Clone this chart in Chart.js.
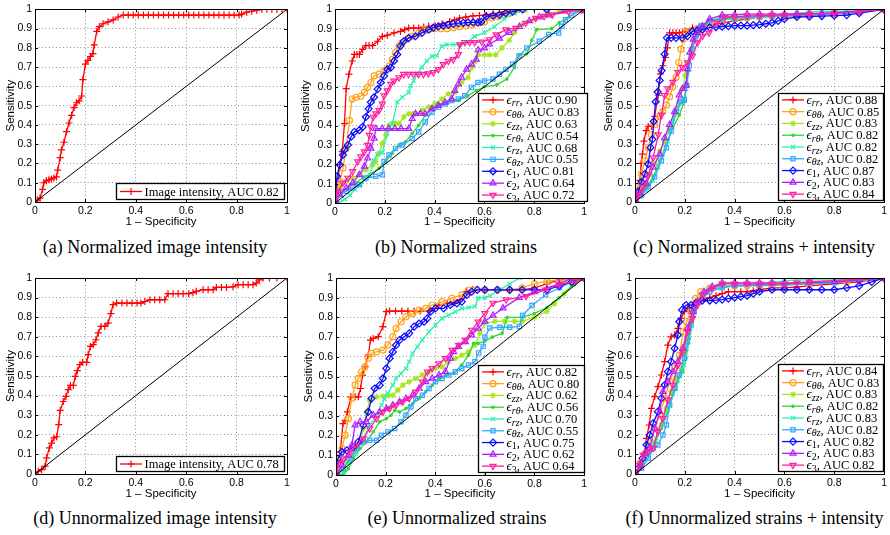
<!DOCTYPE html>
<html>
<head>
<meta charset="utf-8">
<script src="https://cdn.jsdelivr.net/npm/chart.js@4.4.0/dist/chart.umd.min.js"></script>
<style>
  html, body { margin: 0; padding: 0; background: #fff; }
  #fig { position: relative; width: 890px; height: 535px; overflow: hidden; }
  #fig canvas { position: absolute; }
  .cap {
    position: absolute; white-space: nowrap; color: #000;
    font-family: "Liberation Serif", "Times New Roman", serif;
    font-size: 18px; line-height: 20px; transform: translateX(-50%);
  }
</style>
</head>
<body>
<div id="fig"></div>
<script>
// ---- data ----
const chance = [[0, 0], [1, 1]];
const strainSubs = ['rr', 'θθ', 'zz', 'rθ', 'rz', 'θz', '1', '2', '3'];
const captions = [
  '(a) Normalized image intensity', '(b) Normalized strains', '(c) Normalized strains + intensity',
  '(d) Unnormalized image intensity', '(e) Unnormalized strains', '(f) Unnormalized strains + intensity'
];
const aucA = 0.82;
const aucD = 0.78;
const aucB = [0.90, 0.83, 0.63, 0.54, 0.68, 0.55, 0.81, 0.64, 0.72];
const aucC = [0.88, 0.85, 0.83, 0.82, 0.82, 0.82, 0.87, 0.83, 0.84];
const aucE = [0.82, 0.80, 0.62, 0.56, 0.70, 0.55, 0.75, 0.62, 0.64];
const aucF = [0.84, 0.83, 0.83, 0.82, 0.83, 0.82, 0.82, 0.83, 0.82];

// (a) normalized image intensity
const rocA = [[0,0],[0.01,0.01],[0.02,0.02],[0.03,0.065],[0.035,0.1],[0.045,0.11],[0.055,0.115],[0.065,0.12],[0.075,0.125],[0.085,0.13],[0.09,0.165],[0.1,0.23],[0.105,0.27],[0.115,0.31],[0.125,0.365],[0.135,0.41],[0.145,0.45],[0.155,0.49],[0.165,0.515],[0.175,0.525],[0.185,0.55],[0.19,0.635],[0.2,0.715],[0.21,0.735],[0.22,0.755],[0.23,0.77],[0.235,0.815],[0.245,0.885],[0.255,0.91],[0.27,0.925],[0.29,0.935],[0.31,0.945],[0.33,0.96],[0.35,0.97],[0.37,0.97],[0.39,0.97],[0.41,0.97],[0.43,0.97],[0.45,0.97],[0.47,0.97],[0.49,0.97],[0.51,0.97],[0.53,0.97],[0.55,0.97],[0.57,0.97],[0.59,0.97],[0.61,0.97],[0.63,0.97],[0.65,0.97],[0.67,0.97],[0.69,0.97],[0.71,0.97],[0.73,0.97],[0.75,0.97],[0.77,0.97],[0.79,0.97],[0.81,0.97],[0.82,0.975],[0.84,0.985],[0.86,0.99],[0.88,0.995],[0.9,1],[0.92,1],[0.94,1],[0.96,1],[0.98,1],[1,1]];

// (d) unnormalized image intensity
const rocD = [[0,0],[0.013,0.014],[0.026,0.022],[0.04,0.04],[0.046,0.082],[0.057,0.133],[0.066,0.158],[0.075,0.184],[0.086,0.19],[0.094,0.252],[0.1,0.325],[0.112,0.37],[0.123,0.396],[0.132,0.43],[0.141,0.452],[0.152,0.452],[0.16,0.498],[0.168,0.527],[0.178,0.558],[0.189,0.57],[0.205,0.57],[0.211,0.609],[0.22,0.651],[0.231,0.66],[0.242,0.685],[0.251,0.72],[0.262,0.753],[0.277,0.753],[0.29,0.77],[0.301,0.818],[0.31,0.864],[0.324,0.872],[0.345,0.872],[0.365,0.872],[0.385,0.872],[0.405,0.872],[0.42,0.872],[0.436,0.88],[0.456,0.889],[0.475,0.889],[0.495,0.889],[0.515,0.889],[0.528,0.92],[0.548,0.92],[0.568,0.92],[0.588,0.92],[0.61,0.92],[0.627,0.925],[0.64,0.932],[0.667,0.94],[0.687,0.94],[0.707,0.94],[0.72,0.952],[0.74,0.952],[0.76,0.952],[0.786,0.955],[0.806,0.966],[0.826,0.966],[0.846,0.966],[0.865,0.966],[0.878,0.974],[0.89,0.99],[0.905,1],[0.93,1],[0.96,1],[1,1]];

// (b) normalized strains, same order as strainSubs
const rocB = [
  [[0,0],[0.008,0.078],[0.019,0.197],[0.029,0.265],[0.038,0.41],[0.045,0.59],[0.056,0.665],[0.069,0.733],[0.078,0.767],[0.088,0.767],[0.098,0.767],[0.111,0.793],[0.124,0.813],[0.137,0.813],[0.151,0.813],[0.171,0.835],[0.19,0.86],[0.21,0.866],[0.237,0.878],[0.263,0.886],[0.28,0.895],[0.296,0.903],[0.316,0.903],[0.336,0.903],[0.356,0.908],[0.376,0.912],[0.402,0.917],[0.43,0.925],[0.46,0.937],[0.48,0.945],[0.5,0.954],[0.525,0.96],[0.554,0.966],[0.58,0.968],[0.607,0.971],[0.635,0.977],[0.66,0.98],[0.68,0.988],[0.7,0.993],[0.74,1],[0.8,1],[0.9,1],[1,1]],
  [[0,0],[0.019,0.112],[0.032,0.18],[0.045,0.282],[0.058,0.427],[0.069,0.537],[0.085,0.546],[0.104,0.551],[0.118,0.571],[0.131,0.597],[0.144,0.622],[0.157,0.656],[0.177,0.665],[0.197,0.682],[0.217,0.707],[0.23,0.741],[0.243,0.776],[0.257,0.81],[0.27,0.827],[0.29,0.847],[0.31,0.861],[0.336,0.878],[0.362,0.895],[0.38,0.898],[0.4,0.9],[0.425,0.9],[0.45,0.9],[0.475,0.905],[0.5,0.91],[0.525,0.915],[0.55,0.92],[0.575,0.928],[0.6,0.935],[0.63,0.955],[0.655,0.962],[0.68,0.97],[0.7,0.98],[0.72,0.99],[0.76,1],[0.85,1],[1,1]],
  [[0,0],[0.019,0.078],[0.045,0.112],[0.071,0.129],[0.098,0.146],[0.124,0.172],[0.151,0.197],[0.164,0.214],[0.177,0.257],[0.19,0.308],[0.204,0.35],[0.217,0.401],[0.23,0.41],[0.243,0.41],[0.257,0.41],[0.276,0.444],[0.296,0.461],[0.31,0.461],[0.323,0.461],[0.349,0.478],[0.376,0.495],[0.402,0.512],[0.429,0.537],[0.455,0.563],[0.481,0.571],[0.508,0.622],[0.534,0.648],[0.55,0.7],[0.561,0.73],[0.575,0.765],[0.6,0.765],[0.62,0.765],[0.645,0.765],[0.67,0.8],[0.7,0.84],[0.72,0.88],[0.75,0.92],[0.8,0.95],[0.85,0.97],[0.9,0.99],[1,1]],
  [[0,0],[0.032,0.061],[0.058,0.087],[0.085,0.104],[0.111,0.129],[0.138,0.146],[0.177,0.18],[0.204,0.214],[0.23,0.257],[0.257,0.3],[0.283,0.316],[0.31,0.359],[0.336,0.401],[0.362,0.452],[0.389,0.486],[0.415,0.512],[0.455,0.52],[0.495,0.529],[0.534,0.554],[0.567,0.58],[0.6,0.6],[0.65,0.61],[0.69,0.64],[0.72,0.7],[0.74,0.765],[0.77,0.77],[0.79,0.84],[0.81,0.895],[0.87,0.9],[0.9,0.93],[0.94,0.96],[0.97,0.99],[1,1]],
  [[0,0],[0.02,0.005],[0.04,0.02],[0.06,0.04],[0.08,0.07],[0.1,0.09],[0.12,0.12],[0.14,0.14],[0.155,0.22],[0.17,0.25],[0.19,0.26],[0.21,0.36],[0.23,0.41],[0.25,0.52],[0.27,0.546],[0.296,0.571],[0.303,0.605],[0.316,0.631],[0.33,0.665],[0.349,0.7],[0.369,0.733],[0.389,0.758],[0.409,0.76],[0.429,0.81],[0.448,0.818],[0.475,0.818],[0.501,0.818],[0.528,0.827],[0.561,0.86],[0.6,0.88],[0.64,0.91],[0.68,0.95],[0.72,0.98],[0.76,1],[0.85,1],[1,1]],
  [[0,0],[0.019,0.044],[0.045,0.061],[0.071,0.078],[0.098,0.095],[0.124,0.129],[0.164,0.138],[0.19,0.146],[0.197,0.214],[0.217,0.248],[0.243,0.282],[0.27,0.299],[0.31,0.333],[0.336,0.367],[0.362,0.418],[0.389,0.469],[0.415,0.495],[0.442,0.512],[0.468,0.529],[0.495,0.537],[0.521,0.554],[0.548,0.597],[0.574,0.622],[0.6,0.63],[0.634,0.64],[0.66,0.665],[0.686,0.69],[0.713,0.716],[0.739,0.759],[0.77,0.8],[0.82,0.835],[0.858,0.87],[0.898,0.878],[0.911,0.912],[0.925,0.946],[0.95,0.97],[0.99,0.997],[1,1]],
  [[0,0],[0.008,0.138],[0.019,0.197],[0.032,0.248],[0.038,0.274],[0.052,0.3],[0.065,0.342],[0.078,0.367],[0.098,0.376],[0.111,0.393],[0.124,0.444],[0.135,0.486],[0.144,0.52],[0.157,0.546],[0.171,0.588],[0.184,0.622],[0.197,0.656],[0.21,0.69],[0.224,0.699],[0.237,0.733],[0.25,0.767],[0.263,0.81],[0.276,0.835],[0.296,0.852],[0.323,0.861],[0.349,0.878],[0.376,0.895],[0.395,0.905],[0.415,0.912],[0.435,0.916],[0.455,0.92],[0.475,0.925],[0.495,0.929],[0.515,0.93],[0.534,0.932],[0.555,0.932],[0.574,0.932],[0.587,0.935],[0.607,0.963],[0.635,0.967],[0.66,0.971],[0.685,0.98],[0.713,0.988],[0.753,1],[0.85,1],[1,1]],
  [[0,0],[0.019,0.044],[0.045,0.078],[0.071,0.104],[0.098,0.146],[0.118,0.189],[0.131,0.231],[0.144,0.282],[0.157,0.333],[0.164,0.384],[0.19,0.384],[0.215,0.384],[0.24,0.384],[0.265,0.384],[0.296,0.384],[0.31,0.435],[0.323,0.461],[0.343,0.461],[0.362,0.461],[0.389,0.486],[0.415,0.503],[0.442,0.52],[0.468,0.537],[0.481,0.58],[0.495,0.614],[0.508,0.648],[0.528,0.69],[0.548,0.716],[0.567,0.741],[0.575,0.79],[0.6,0.8],[0.62,0.82],[0.66,0.85],[0.7,0.88],[0.74,0.91],[0.78,0.94],[0.82,0.96],[0.86,0.97],[0.92,0.99],[1,1]],
  [[0,0],[0.012,0.061],[0.032,0.104],[0.052,0.129],[0.071,0.163],[0.091,0.214],[0.104,0.24],[0.118,0.265],[0.131,0.299],[0.138,0.35],[0.144,0.393],[0.153,0.444],[0.164,0.461],[0.177,0.478],[0.19,0.512],[0.197,0.554],[0.21,0.58],[0.224,0.614],[0.237,0.631],[0.257,0.648],[0.276,0.665],[0.295,0.665],[0.315,0.665],[0.335,0.665],[0.355,0.665],[0.375,0.668],[0.395,0.675],[0.415,0.69],[0.435,0.716],[0.455,0.733],[0.475,0.741],[0.495,0.767],[0.501,0.818],[0.521,0.83],[0.541,0.83],[0.561,0.83],[0.59,0.832],[0.62,0.844],[0.647,0.869],[0.686,0.895],[0.726,0.903],[0.766,0.929],[0.806,0.954],[0.84,0.965],[0.872,0.971],[0.938,0.988],[0.99,0.997],[1,1]]
];

// (c) normalized strains + intensity
const rocC = [
  [[0,0],[0.009,0.061],[0.02,0.112],[0.025,0.2],[0.03,0.248],[0.036,0.316],[0.045,0.37],[0.053,0.393],[0.066,0.393],[0.079,0.444],[0.093,0.554],[0.102,0.665],[0.112,0.707],[0.122,0.75],[0.13,0.8],[0.139,0.878],[0.152,0.878],[0.165,0.878],[0.178,0.878],[0.192,0.882],[0.205,0.886],[0.231,0.903],[0.26,0.91],[0.3,0.92],[0.35,0.93],[0.4,0.94],[0.45,0.95],[0.5,0.96],[0.55,0.962],[0.6,0.965],[0.65,0.968],[0.7,0.97],[0.75,0.975],[0.8,0.98],[0.85,0.985],[0.9,0.99],[1,1]],
  [[0,0],[0.013,0.078],[0.026,0.146],[0.04,0.214],[0.053,0.282],[0.066,0.35],[0.079,0.401],[0.099,0.444],[0.112,0.469],[0.126,0.503],[0.139,0.546],[0.152,0.597],[0.165,0.648],[0.176,0.724],[0.185,0.793],[0.194,0.844],[0.205,0.878],[0.218,0.886],[0.25,0.9],[0.3,0.93],[0.35,0.945],[0.4,0.95],[0.45,0.955],[0.5,0.96],[0.55,0.962],[0.6,0.965],[0.65,0.968],[0.7,0.97],[0.8,0.975],[0.9,0.985],[1,1]],
  [[0,0],[0.02,0.044],[0.04,0.095],[0.059,0.146],[0.079,0.197],[0.099,0.265],[0.119,0.316],[0.139,0.384],[0.159,0.452],[0.178,0.52],[0.192,0.588],[0.202,0.656],[0.212,0.724],[0.225,0.793],[0.238,0.844],[0.258,0.895],[0.3,0.94],[0.35,0.96],[0.4,0.962],[0.45,0.965],[0.5,0.965],[0.55,0.967],[0.6,0.97],[0.65,0.97],[0.7,0.972],[0.75,0.975],[0.8,0.978],[0.9,0.99],[1,1]],
  [[0,0],[0.02,0.036],[0.046,0.078],[0.073,0.129],[0.099,0.214],[0.126,0.299],[0.152,0.384],[0.178,0.452],[0.198,0.52],[0.208,0.622],[0.218,0.724],[0.231,0.81],[0.251,0.861],[0.271,0.895],[0.3,0.94],[0.35,0.955],[0.4,0.958],[0.45,0.96],[0.5,0.963],[0.55,0.966],[0.6,0.97],[0.65,0.97],[0.7,0.972],[0.75,0.975],[0.8,0.978],[0.9,0.99],[1,1]],
  [[0,0],[0.02,0.027],[0.046,0.061],[0.073,0.112],[0.093,0.18],[0.112,0.248],[0.132,0.316],[0.152,0.418],[0.172,0.486],[0.189,0.52],[0.198,0.537],[0.205,0.588],[0.211,0.673],[0.225,0.776],[0.238,0.844],[0.251,0.895],[0.271,0.92],[0.3,0.94],[0.35,0.945],[0.4,0.95],[0.45,0.955],[0.5,0.96],[0.55,0.965],[0.6,0.97],[0.65,0.98],[0.7,0.985],[0.75,0.99],[0.8,0.99],[0.85,0.99],[0.92,0.995],[1,1]],
  [[0,0],[0.026,0.036],[0.053,0.078],[0.079,0.129],[0.106,0.214],[0.126,0.282],[0.145,0.367],[0.165,0.469],[0.185,0.52],[0.198,0.529],[0.208,0.605],[0.218,0.707],[0.231,0.793],[0.244,0.861],[0.264,0.912],[0.3,0.94],[0.35,0.95],[0.4,0.955],[0.45,0.96],[0.5,0.962],[0.55,0.965],[0.6,0.967],[0.7,0.97],[0.85,0.98],[1,1]],
  [[0,0],[0.013,0.053],[0.026,0.104],[0.04,0.146],[0.053,0.197],[0.062,0.282],[0.07,0.325],[0.075,0.418],[0.083,0.52],[0.091,0.571],[0.099,0.631],[0.107,0.682],[0.119,0.767],[0.128,0.852],[0.145,0.852],[0.165,0.852],[0.19,0.852],[0.211,0.861],[0.231,0.886],[0.25,0.89],[0.271,0.895],[0.3,0.905],[0.325,0.908],[0.35,0.91],[0.375,0.912],[0.4,0.915],[0.425,0.915],[0.45,0.915],[0.475,0.918],[0.5,0.92],[0.525,0.925],[0.55,0.93],[0.575,0.94],[0.6,0.95],[0.65,0.96],[0.7,0.962],[0.75,0.965],[0.8,0.967],[0.85,0.97],[0.9,0.98],[1,1]],
  [[0,0],[0.02,0.044],[0.046,0.095],[0.073,0.18],[0.099,0.248],[0.119,0.333],[0.139,0.401],[0.159,0.469],[0.178,0.554],[0.191,0.588],[0.205,0.605],[0.211,0.69],[0.22,0.776],[0.234,0.844],[0.251,0.878],[0.271,0.912],[0.3,0.95],[0.35,0.97],[0.4,0.972],[0.45,0.975],[0.5,0.975],[0.55,0.975],[0.6,0.975],[0.65,0.977],[0.7,0.978],[0.75,0.98],[0.8,0.982],[0.9,0.99],[1,1]],
  [[0,0],[0.013,0.036],[0.033,0.078],[0.053,0.138],[0.073,0.231],[0.093,0.35],[0.106,0.452],[0.119,0.554],[0.132,0.588],[0.152,0.622],[0.172,0.673],[0.191,0.699],[0.211,0.724],[0.231,0.759],[0.251,0.827],[0.271,0.861],[0.297,0.878],[0.33,0.93],[0.36,0.96],[0.4,0.962],[0.45,0.965],[0.5,0.967],[0.55,0.97],[0.6,0.97],[0.7,0.975],[0.8,0.98],[0.9,0.99],[1,1]]
];

// (e) unnormalized strains
const rocE = [
  [[0,0],[0.007,0.066],[0.017,0.117],[0.028,0.261],[0.037,0.278],[0.046,0.32],[0.06,0.397],[0.077,0.397],[0.09,0.397],[0.099,0.439],[0.107,0.507],[0.117,0.549],[0.13,0.608],[0.139,0.685],[0.15,0.693],[0.17,0.702],[0.189,0.753],[0.203,0.829],[0.216,0.832],[0.24,0.832],[0.265,0.832],[0.29,0.832],[0.315,0.832],[0.34,0.832],[0.375,0.832],[0.395,0.846],[0.415,0.863],[0.448,0.871],[0.475,0.875],[0.5,0.89],[0.527,0.932],[0.55,0.94],[0.6,0.94],[0.65,0.94],[0.7,0.94],[0.75,0.94],[0.8,0.95],[0.85,0.97],[0.9,0.99],[0.95,1],[1,1]],
  [[0,0],[0.011,0.083],[0.024,0.134],[0.037,0.202],[0.05,0.286],[0.064,0.388],[0.077,0.456],[0.09,0.49],[0.103,0.524],[0.117,0.549],[0.13,0.592],[0.143,0.617],[0.163,0.625],[0.189,0.634],[0.209,0.659],[0.229,0.702],[0.242,0.744],[0.262,0.778],[0.282,0.803],[0.309,0.82],[0.335,0.837],[0.362,0.846],[0.388,0.863],[0.428,0.88],[0.468,0.897],[0.507,0.914],[0.534,0.939],[0.56,0.94],[0.6,0.94],[0.65,0.94],[0.7,0.94],[0.75,0.95],[0.8,0.97],[0.85,0.985],[0.92,0.99],[1,1]],
  [[0,0],[0.017,0.032],[0.044,0.066],[0.07,0.108],[0.097,0.168],[0.11,0.236],[0.123,0.32],[0.136,0.38],[0.163,0.397],[0.19,0.4],[0.21,0.402],[0.229,0.405],[0.249,0.431],[0.269,0.456],[0.295,0.473],[0.322,0.49],[0.348,0.507],[0.375,0.524],[0.401,0.541],[0.428,0.549],[0.454,0.575],[0.481,0.592],[0.507,0.608],[0.534,0.625],[0.56,0.659],[0.58,0.72],[0.6,0.77],[0.64,0.78],[0.68,0.78],[0.72,0.78],[0.75,0.78],[0.8,0.8],[0.85,0.83],[0.88,0.87],[0.92,0.92],[0.96,0.97],[1,1]],
  [[0,0],[0.03,0],[0.05,0.032],[0.07,0.083],[0.097,0.134],[0.123,0.168],[0.15,0.219],[0.176,0.27],[0.203,0.286],[0.222,0.303],[0.236,0.329],[0.256,0.32],[0.282,0.337],[0.309,0.363],[0.335,0.388],[0.362,0.422],[0.388,0.456],[0.415,0.49],[0.441,0.507],[0.474,0.515],[0.507,0.558],[0.534,0.608],[0.554,0.668],[0.573,0.668],[0.6,0.68],[0.63,0.7],[0.67,0.72],[0.69,0.8],[0.75,0.8],[0.8,0.82],[0.85,0.85],[0.9,0.9],[0.95,0.96],[1,1]],
  [[0,0],[0.03,0.015],[0.057,0.066],[0.083,0.117],[0.11,0.185],[0.136,0.253],[0.163,0.303],[0.183,0.354],[0.196,0.388],[0.209,0.414],[0.229,0.456],[0.242,0.49],[0.262,0.515],[0.282,0.541],[0.295,0.575],[0.309,0.617],[0.328,0.651],[0.348,0.685],[0.375,0.727],[0.401,0.761],[0.428,0.795],[0.454,0.812],[0.481,0.829],[0.507,0.846],[0.534,0.85],[0.56,0.855],[0.573,0.898],[0.6,0.9],[0.62,0.91],[0.66,0.94],[0.7,0.97],[0.74,1],[0.85,1],[1,1]],
  [[0,0],[0.03,0.032],[0.057,0.083],[0.083,0.134],[0.11,0.168],[0.136,0.176],[0.163,0.176],[0.183,0.202],[0.209,0.219],[0.236,0.236],[0.262,0.27],[0.282,0.303],[0.302,0.346],[0.322,0.388],[0.348,0.405],[0.375,0.439],[0.401,0.473],[0.428,0.49],[0.454,0.507],[0.481,0.524],[0.507,0.541],[0.534,0.558],[0.56,0.575],[0.575,0.62],[0.593,0.653],[0.6,0.7],[0.62,0.746],[0.66,0.75],[0.7,0.75],[0.739,0.754],[0.752,0.81],[0.79,0.86],[0.845,0.915],[0.9,0.95],[0.95,0.98],[1,1]],
  [[0,0],[0.007,0.083],[0.024,0.117],[0.044,0.125],[0.07,0.142],[0.09,0.168],[0.11,0.253],[0.13,0.32],[0.143,0.388],[0.156,0.439],[0.176,0.456],[0.189,0.49],[0.203,0.541],[0.216,0.592],[0.229,0.625],[0.242,0.659],[0.256,0.685],[0.275,0.702],[0.295,0.719],[0.315,0.753],[0.335,0.769],[0.355,0.778],[0.368,0.795],[0.381,0.829],[0.401,0.846],[0.434,0.846],[0.461,0.863],[0.487,0.871],[0.507,0.88],[0.527,0.914],[0.547,0.931],[0.57,0.94],[0.6,0.94],[0.65,0.94],[0.7,0.94],[0.75,0.94],[0.8,0.94],[0.85,0.94],[0.9,0.96],[0.95,0.98],[1,1]],
  [[0,0],[0.024,0.049],[0.05,0.1],[0.064,0.151],[0.077,0.253],[0.097,0.27],[0.123,0.27],[0.15,0.303],[0.176,0.32],[0.203,0.337],[0.229,0.354],[0.256,0.371],[0.282,0.388],[0.309,0.405],[0.335,0.439],[0.362,0.473],[0.388,0.49],[0.415,0.507],[0.441,0.524],[0.461,0.592],[0.474,0.625],[0.494,0.651],[0.521,0.676],[0.547,0.71],[0.573,0.744],[0.6,0.78],[0.633,0.81],[0.673,0.847],[0.739,0.9],[0.8,0.93],[0.9,0.97],[0.95,1],[1,1]],
  [[0,0],[0.011,0.058],[0.03,0.083],[0.057,0.117],[0.083,0.151],[0.11,0.185],[0.136,0.236],[0.163,0.286],[0.189,0.32],[0.216,0.337],[0.242,0.354],[0.269,0.371],[0.295,0.388],[0.322,0.422],[0.348,0.473],[0.368,0.524],[0.388,0.541],[0.415,0.566],[0.441,0.592],[0.468,0.634],[0.494,0.659],[0.521,0.685],[0.547,0.736],[0.573,0.778],[0.6,0.82],[0.633,0.873],[0.686,0.89],[0.766,0.907],[0.845,0.94],[0.898,0.966],[0.964,0.983],[1,1]]
];

// (f) unnormalized strains + intensity
const rocF = [
  [[0,0],[0.013,0.02],[0.026,0.063],[0.04,0.105],[0.046,0.182],[0.057,0.25],[0.066,0.335],[0.079,0.395],[0.092,0.446],[0.106,0.505],[0.119,0.573],[0.132,0.658],[0.145,0.7],[0.159,0.709],[0.172,0.743],[0.185,0.794],[0.198,0.828],[0.218,0.845],[0.238,0.862],[0.25,0.88],[0.275,0.89],[0.3,0.9],[0.325,0.91],[0.35,0.92],[0.375,0.93],[0.4,0.93],[0.425,0.93],[0.45,0.93],[0.475,0.935],[0.5,0.94],[0.55,0.95],[0.6,0.95],[0.65,0.955],[0.7,0.96],[0.8,0.97],[0.9,0.98],[1,1]],
  [[0,0],[0.02,0.054],[0.04,0.105],[0.059,0.165],[0.079,0.233],[0.099,0.301],[0.119,0.386],[0.139,0.471],[0.159,0.539],[0.178,0.607],[0.194,0.726],[0.207,0.777],[0.225,0.828],[0.244,0.896],[0.264,0.93],[0.3,0.95],[0.35,0.96],[0.4,0.96],[0.45,0.96],[0.5,0.96],[0.55,0.962],[0.6,0.965],[0.7,0.97],[0.85,0.98],[1,1]],
  [[0,0],[0.026,0.046],[0.053,0.105],[0.079,0.165],[0.106,0.25],[0.126,0.335],[0.145,0.42],[0.165,0.488],[0.185,0.539],[0.198,0.624],[0.211,0.709],[0.225,0.777],[0.238,0.845],[0.258,0.896],[0.3,0.94],[0.35,0.96],[0.4,0.962],[0.5,0.963],[0.6,0.965],[0.7,0.97],[0.8,0.975],[1,1]],
  [[0,0],[0.026,0.037],[0.053,0.097],[0.079,0.156],[0.106,0.233],[0.132,0.318],[0.152,0.403],[0.172,0.471],[0.192,0.522],[0.205,0.59],[0.218,0.692],[0.231,0.777],[0.244,0.845],[0.264,0.888],[0.3,0.94],[0.35,0.955],[0.4,0.96],[0.5,0.965],[0.6,0.97],[0.7,0.975],[0.8,0.98],[1,1]],
  [[0,0],[0.026,0.037],[0.059,0.114],[0.086,0.182],[0.112,0.267],[0.139,0.352],[0.165,0.437],[0.185,0.522],[0.198,0.556],[0.207,0.641],[0.22,0.726],[0.234,0.811],[0.251,0.871],[0.271,0.913],[0.3,0.945],[0.35,0.955],[0.4,0.96],[0.45,0.965],[0.5,0.97],[0.55,0.978],[0.6,0.985],[0.65,0.99],[0.7,0.99],[0.8,0.99],[1,1]],
  [[0,0],[0.026,0.029],[0.053,0.08],[0.073,0.131],[0.092,0.148],[0.112,0.199],[0.126,0.25],[0.139,0.352],[0.159,0.437],[0.178,0.505],[0.198,0.59],[0.211,0.675],[0.225,0.76],[0.238,0.828],[0.258,0.879],[0.3,0.93],[0.35,0.95],[0.4,0.96],[0.5,0.962],[0.6,0.965],[0.8,0.975],[1,1]],
  [[0,0],[0.013,0.029],[0.03,0.08],[0.046,0.148],[0.059,0.199],[0.073,0.259],[0.092,0.318],[0.106,0.386],[0.119,0.454],[0.132,0.522],[0.145,0.573],[0.159,0.641],[0.172,0.709],[0.178,0.777],[0.189,0.837],[0.205,0.862],[0.225,0.862],[0.244,0.871],[0.27,0.885],[0.3,0.885],[0.325,0.887],[0.35,0.89],[0.375,0.895],[0.4,0.9],[0.425,0.905],[0.45,0.91],[0.475,0.92],[0.5,0.93],[0.55,0.94],[0.6,0.94],[0.65,0.94],[0.7,0.94],[0.75,0.94],[0.8,0.94],[0.85,0.95],[0.9,0.96],[0.95,0.98],[1,1]],
  [[0,0],[0.02,0.046],[0.04,0.105],[0.059,0.131],[0.079,0.233],[0.099,0.318],[0.112,0.42],[0.132,0.471],[0.152,0.522],[0.172,0.573],[0.192,0.641],[0.211,0.743],[0.231,0.828],[0.251,0.879],[0.277,0.93],[0.31,0.956],[0.35,0.975],[0.4,0.975],[0.45,0.975],[0.5,0.975],[0.55,0.975],[0.6,0.975],[0.7,0.978],[0.8,0.98],[0.9,0.99],[1,1]],
  [[0,0],[0.02,0.046],[0.033,0.097],[0.053,0.114],[0.073,0.131],[0.092,0.216],[0.112,0.284],[0.132,0.378],[0.152,0.454],[0.172,0.556],[0.192,0.624],[0.211,0.726],[0.231,0.794],[0.251,0.862],[0.271,0.913],[0.31,0.947],[0.35,0.97],[0.4,0.97],[0.45,0.97],[0.5,0.97],[0.55,0.97],[0.6,0.97],[0.65,0.975],[0.7,0.98],[0.85,0.99],[1,1]]
];

// ---- styling ----
const strainColors = ['#ff0000', '#ffa319', '#a6e61a', '#2ed82e', '#2ef0b0', '#33a8ff', '#0a0aff', '#b01eff', '#ff1fa0'];
const strainMarks = [
  {style: 'cross', r: 3.5}, {style: 'circle', r: 3}, {style: 'star', r: 3}, {style: 'circle', r: 1.2, fill: true},
  {style: 'crossRot', r: 3}, {style: 'rect', r: 3}, {style: 'rectRot', r: 3.5}, {style: 'triangle', r: 3.5},
  {style: 'triangle', r: 3.5, rot: 180}
];
const serif = '"Liberation Serif", "Times New Roman", serif';
const sans = '"Liberation Sans", Arial, Helvetica, sans-serif';

// page geometry: canvas box [left, top, w, h], plot area [l, t, r, b], legend box [l, t, r, b]
const layout = [
  {box: [0, 0, 293, 232],   area: [35, 6, 287, 202],   yTitleX: 11,    xTitleY: 221.7, legend: [116, 183.3, 284, 199.3], cap: [155, 247]},
  {box: [295, 0, 295, 232], area: [335, 6, 587, 203],  yTitleX: 305.5, xTitleY: 221.7, legend: [478.3, 93, 587.3, 200.7], cap: [456, 247]},
  {box: [595, 0, 295, 232], area: [635, 6, 887, 202],  yTitleX: 608.5, xTitleY: 221.7, legend: [778, 92.7, 883.3, 199.3], cap: [754, 247]},
  {box: [0, 268, 293, 234], area: [35, 278, 287, 474], yTitleX: 11,    xTitleY: 494.3, legend: [116, 456, 284, 470.7], cap: [155, 518]},
  {box: [295, 268, 295, 234], area: [336, 278, 587, 475], yTitleX: 309, xTitleY: 494.3, legend: [477.7, 365, 583.3, 471.7], cap: [457, 518]},
  {box: [595, 268, 295, 234], area: [635, 278, 887, 474], yTitleX: 610.7, xTitleY: 494.3, legend: [778, 364, 883.3, 471], cap: [754.5, 518]}
];

function toPoints(arr) { return arr.map(p => ({x: p[0], y: p[1]})); }

function curve(arr, color, mark, order) {
  return {
    data: toPoints(arr), showLine: true, tension: 0, order,
    borderColor: color, borderWidth: 1.3,
    pointStyle: mark.style, pointRadius: mark.r, pointRotation: mark.rot || 0,
    pointBorderColor: color, pointBorderWidth: 1.2,
    pointBackgroundColor: mark.fill ? color : 'rgba(0,0,0,0)'
  };
}

function diagonal() {
  return {data: toPoints(chance), showLine: true, borderColor: '#000', borderWidth: 1, pointRadius: 0, order: -1};
}

// frame with inward ticks + matlab-like legend box
const matlabFrame = {
  id: 'matlabFrame',
  afterDatasetsDraw(chart, args, opts) {
    const ctx = chart.ctx, a = chart.chartArea;
    const xs = chart.scales.x, ys = chart.scales.y;
    ctx.save();
    ctx.strokeStyle = '#000';
    ctx.lineWidth = 1;
    ctx.strokeRect(Math.round(a.left) + 0.5, Math.round(a.top) + 0.5, Math.round(a.right - a.left), Math.round(a.bottom - a.top));
    ctx.beginPath();
    xs.ticks.forEach(t => {
      const px = Math.round(xs.getPixelForValue(t.value)) + 0.5;
      ctx.moveTo(px, a.bottom); ctx.lineTo(px, a.bottom - 3);
      ctx.moveTo(px, a.top); ctx.lineTo(px, a.top + 3);
    });
    ys.ticks.forEach(t => {
      const py = Math.round(ys.getPixelForValue(t.value)) + 0.5;
      ctx.moveTo(a.left, py); ctx.lineTo(a.left + 3, py);
      ctx.moveTo(a.right, py); ctx.lineTo(a.right - 3, py);
    });
    ctx.stroke();

    // legend
    const lg = opts.box;
    if (lg) {
      const x0 = Math.round(lg[0]) + 0.5, y0 = Math.round(lg[1]) + 0.5;
      const w = Math.round(lg[2] - lg[0]), h = Math.round(lg[3] - lg[1]);
      ctx.fillStyle = '#fff';
      ctx.fillRect(x0, y0, w, h);
      ctx.strokeStyle = '#000';
      ctx.lineWidth = 1.3;
      ctx.strokeRect(x0, y0, w, h);
      const n = opts.entries.length;
      const rowH = (h - 1) / n;
      opts.entries.forEach((e, i) => {
        const cy = y0 + 0.5 + rowH * (i + 0.5);
        ctx.strokeStyle = e.color;
        ctx.lineWidth = 1.3;
        ctx.beginPath();
        ctx.moveTo(x0 + 3.5, cy); ctx.lineTo(x0 + 25.5, cy);
        ctx.stroke();
        ctx.lineWidth = 1.2;
        ctx.fillStyle = e.mark.fill ? e.color : 'rgba(0,0,0,0)';
        Chart.helpers.drawPoint(ctx, {pointStyle: e.mark.style, radius: e.mark.r, rotation: e.mark.rot || 0, borderWidth: 1.2}, x0 + 14.5, cy);
        ctx.fillStyle = '#000';
        ctx.textBaseline = 'alphabetic';
        let tx = x0 + 28;
        const by = cy + 4;
        if (e.sub) {
          ctx.font = 'italic 13px ' + serif;
          ctx.fillText('ϵ', tx, by);
          tx += ctx.measureText('ϵ').width;
          ctx.font = (/^\d$/.test(e.sub) ? '' : 'italic ') + '10px ' + serif;
          ctx.fillText(e.sub, tx, by + 2.5);
          tx += ctx.measureText(e.sub).width;
        }
        ctx.font = '12.5px ' + serif;
        ctx.fillText(e.text, tx, by);
      });
    }
    ctx.restore();
  }
};

function makePanel(idx, datasets, entries) {
  const L = layout[idx];
  const [cl, ct, cw, ch] = L.box;
  const [al, at, ar, ab] = L.area;
  const fig = document.getElementById('fig');
  const cv = document.createElement('canvas');
  cv.width = cw; cv.height = ch;
  cv.style.left = cl + 'px'; cv.style.top = ct + 'px';
  cv.style.width = cw + 'px'; cv.style.height = ch + 'px';
  fig.appendChild(cv);

  const cap = document.createElement('div');
  cap.className = 'cap';
  cap.textContent = captions[idx];
  cap.style.left = L.cap[0] + 'px';
  cap.style.top = (L.cap[1] - 10) + 'px';
  fig.appendChild(cap);

  const titleSize = 11.5;
  const titleLH = titleSize * 1.2;
  const fmt = v => String(Math.round(v * 10) / 10);
  const leg = L.legend;

  new Chart(cv, {
    type: 'scatter',
    data: {datasets},
    plugins: [matlabFrame],
    options: {
      responsive: false, animation: false, events: [],
      layout: {padding: {top: at - ct, right: cl + cw - ar, left: 0, bottom: 0}},
      plugins: {
        legend: {display: false}, tooltip: {enabled: false},
        matlabFrame: {box: [leg[0] - cl, leg[1] - ct, leg[2] - cl, leg[3] - ct], entries}
      },
      scales: {
        x: {
          type: 'linear', min: 0, max: 1,
          ticks: {stepSize: 0.2, padding: 3, color: '#000', font: {family: sans, size: 10.5}, callback: fmt, maxRotation: 0},
          grid: {color: '#888888', lineWidth: 0.9, drawTicks: false},
          border: {display: false, dash: [1, 2.5]},
          title: {display: true, text: '1 – Specificity', color: '#000', font: {family: sans, size: titleSize},
                  padding: {top: 0, bottom: (ct + ch - L.xTitleY) - titleLH / 2}},
          afterFit(s) { s.height = ct + ch - ab; }
        },
        y: {
          type: 'linear', min: 0, max: 1,
          ticks: {stepSize: 0.1, padding: 3, color: '#000', font: {family: sans, size: 10.5}, callback: fmt},
          grid: {color: '#888888', lineWidth: 0.9, drawTicks: false},
          border: {display: false, dash: [1, 2.5]},
          title: {display: true, text: 'Sensitivity', color: '#000', font: {family: sans, size: titleSize},
                  padding: {top: (L.yTitleX - cl) - titleLH / 2, bottom: 0}},
          afterFit(s) { s.width = al - cl; }
        }
      }
    }
  });
}

function strainPanel(idx, rocs, aucs) {
  const ds = rocs.map((r, i) => curve(r, strainColors[i], strainMarks[i], strainSubs.length - i));
  ds.push(diagonal());
  const entries = strainSubs.map((s, i) => ({
    sub: s, text: ', AUC ' + aucs[i].toFixed(2), color: strainColors[i], mark: strainMarks[i]
  }));
  makePanel(idx, ds, entries);
}

function intensityPanel(idx, roc, auc) {
  const mark = strainMarks[0];
  const ds = [curve(roc, '#ff0000', mark, 1), diagonal()];
  makePanel(idx, ds, [{sub: null, text: 'Image intensity, AUC ' + auc.toFixed(2), color: '#ff0000', mark}]);
}

intensityPanel(0, rocA, aucA);
strainPanel(1, rocB, aucB);
strainPanel(2, rocC, aucC);
intensityPanel(3, rocD, aucD);
strainPanel(4, rocE, aucE);
strainPanel(5, rocF, aucF);
</script>
</body>
</html>
